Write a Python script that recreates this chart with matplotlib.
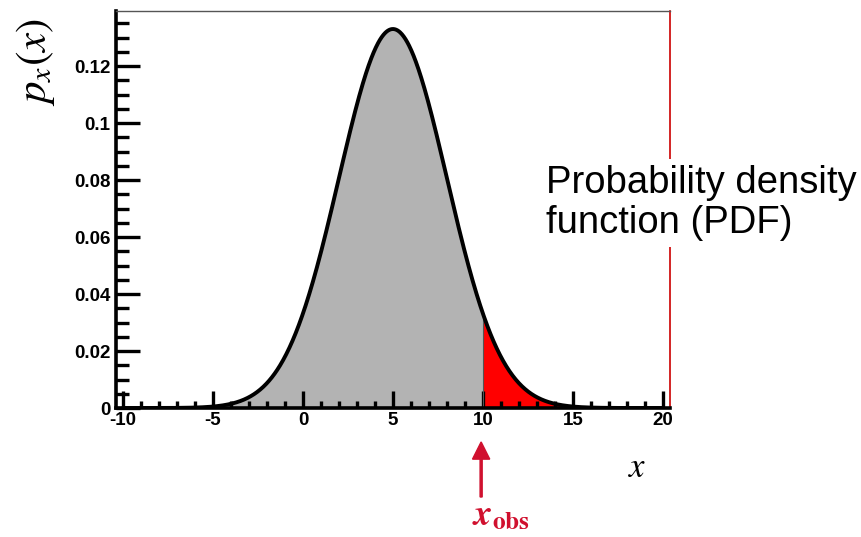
import numpy as np
import matplotlib
matplotlib.use("Agg")
import matplotlib.pyplot as plt
from matplotlib.ticker import MultipleLocator

# PDF parameters (peak ~0.133 at x=5)
mu = 5.0
sigma = 3.0
x_obs = 10.0
x_range = (-10.0, 20.0)

x_ticks = [-10, -5, 0, 5, 10, 15, 20]
y_ticks = [0, 0.02, 0.04, 0.06, 0.08, 0.1, 0.12]
y_tick_labels = ["0", "0.02", "0.04", "0.06", "0.08", "0.1", "0.12"]

plt.rcParams["mathtext.fontset"] = "stix"
plt.rcParams["axes.unicode_minus"] = False

fig = plt.figure(figsize=(8.61, 5.37), dpi=100)
ax = fig.add_axes([0.1347, 0.2402, 0.6433, 0.7393])

xs = np.linspace(x_range[0], x_range[1], 1201)
pdf = np.exp(-0.5 * ((xs - mu) / sigma) ** 2) / (sigma * np.sqrt(2 * np.pi))

left = xs <= x_obs
right = xs >= x_obs
ax.fill_between(xs[left], 0, pdf[left], color="#b3b3b3", lw=0)
ax.fill_between(xs[right], 0, pdf[right], color="#ff0000", lw=0)
ax.vlines(x_obs, 0, pdf[np.argmin(abs(xs - x_obs))], color="#555555", lw=0.8)
ax.plot(xs, pdf, color="black", lw=2.8, solid_capstyle="round")

ax.set_xlim(-10.39, 20.39)
ax.set_ylim(0, 0.1393)

ax.set_xticks(x_ticks)
ax.set_yticks(y_ticks)
ax.set_yticklabels(y_tick_labels)
ax.xaxis.set_minor_locator(MultipleLocator(1))
ax.yaxis.set_minor_locator(MultipleLocator(0.005))

ax.tick_params(axis="both", which="both", direction="in", top=False, right=False,
               width=2.4, color="black")
ax.tick_params(axis="x", which="major", length=12, pad=3)
ax.tick_params(axis="x", which="minor", length=5)
ax.tick_params(axis="y", which="major", length=17, pad=4)
ax.tick_params(axis="y", which="minor", length=9)
for lab in ax.get_xticklabels() + ax.get_yticklabels():
    lab.set_fontfamily("Liberation Sans")
    lab.set_fontweight("bold")
    lab.set_fontsize(13.5)

ax.spines["left"].set_linewidth(2.6)
ax.spines["bottom"].set_linewidth(2.6)
ax.spines["top"].set_linewidth(1.0)
ax.spines["top"].set_color("#555555")
ax.spines["right"].set_linewidth(1.2)
ax.spines["right"].set_color("#cc0000")

# axis labels
fig.text(0.041, 0.884, r"$p_x(x)$", rotation=90, fontsize=31,
         ha="center", va="center")
fig.text(0.74, 0.13, r"$x$", fontsize=25, ha="center", va="center")

# x_obs marker below the axis
fig.patches.append(matplotlib.patches.FancyArrow(
    0.5588, 0.0745, 0, 0.1025, width=0.0024, head_width=0.02,
    head_length=0.032, length_includes_head=True, color="#d0102e",
    transform=fig.transFigure, figure=fig))
fig.text(0.582, 0.04, r"$\mathbfit{x}_{\mathbf{obs}}$", fontsize=26,
         color="#d0102e", ha="center", va="center")

# annotation box covering the right spine
fig.text(0.634, 0.622, "Probability density\nfunction (PDF)", fontsize=27.5,
         family="Liberation Sans", ha="left", va="center", linespacing=1.15,
         bbox=dict(facecolor="white", edgecolor="none", pad=4))

fig.savefig("out.png", dpi=100)
